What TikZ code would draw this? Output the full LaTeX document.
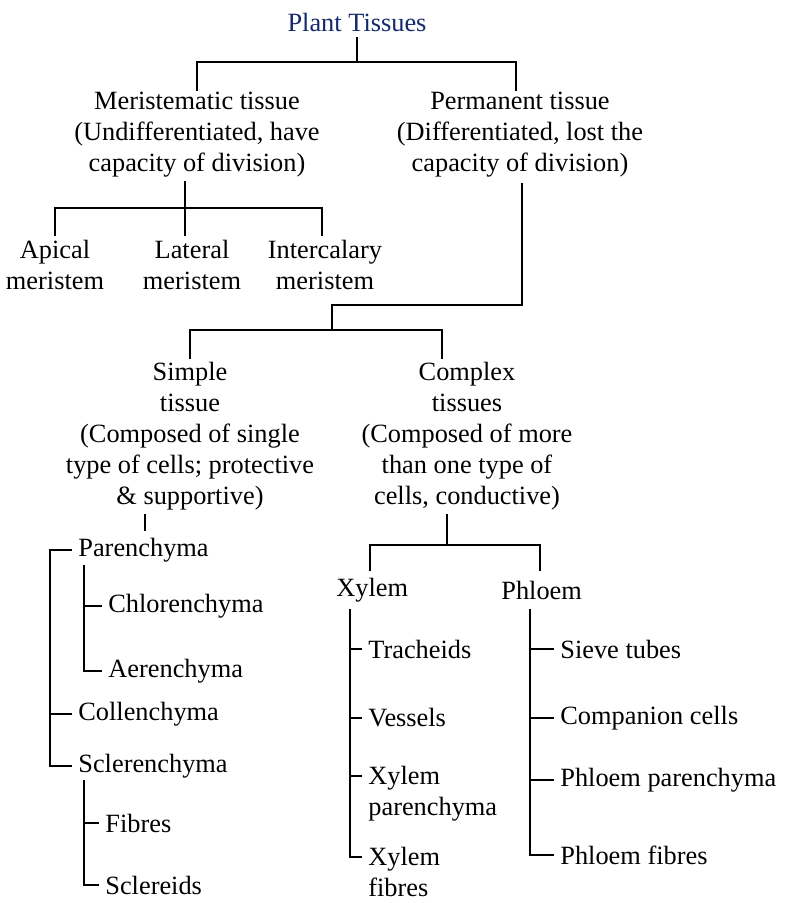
\documentclass[tikz,border=0pt]{standalone}
\usepackage{fontspec}
\setmainfont{Liberation Serif}
\definecolor{titleblue}{RGB}{20,40,110}
\begin{document}
\begin{tikzpicture}[
		x=0.02cm, y=-0.02cm,
		txt/.style={align=center, font=\fontsize{15}{17.6}\selectfont, inner sep=2pt},
		lbl/.style={align=left, anchor=west, font=\fontsize{15}{17.6}\selectfont, inner sep=4pt},
		link/.style={thick, line cap=rect}
	]
	\useasboundingbox (0,0) rectangle (800,903);
	% Top level
	\node[txt, text=titleblue] (plant) at (357,22) {Plant Tissues};
	\node[txt] (merist) at (197,135) {Meristematic tissue\\(Undifferentiated, have\\capacity of division)};
	\node[txt] (perm) at (520,135) {Permanent tissue\\(Differentiated, lost the\\capacity of division)};
	\draw[link] (357,38) -- (357,62);
	\draw[link] (197,90) |- (516,62) -- (516,90);

	% Meristems
	\node[txt] (apical) at (55,265) {Apical\\meristem};
	\node[txt] (lateral) at (192,265) {Lateral\\meristem};
	\node[txt] (inter) at (325,265) {Intercalary\\meristem};
	\draw[link] (185,182) -- (185,208);
	\draw[link] (55,235) |- (322,208) -- (322,235);
	\draw[link] (185,208) -- (185,235);

	% Permanent
	\node[txt] (simple) at (190,436) {Simple\\tissue\\(Composed of single\\type of cells; protective\\\& supportive)};
	\node[txt] (complex) at (467,436) {Complex\\tissues\\(Composed of more\\than one type of\\cells, conductive)};
	\draw[link] (522,184) |- (332,305) -- (332,330);
	\draw[link] (190,358) |- (442,330) -- (442,358);

	% Simple tissue
	\draw[link] (145,515) -- (145,530);
	\node[lbl] (paren) at (71,550) {Parenchyma};
	\node[lbl] (chlor) at (101,606) {Chlorenchyma};
	\node[lbl] (aeren) at (101,671) {Aerenchyma};
	\node[lbl] (collen) at (71,714) {Collenchyma};
	\node[lbl] (scler) at (71,766) {Sclerenchyma};
	\node[lbl] (fibres) at (98,823) {Fibres};
	\node[lbl] (sclereid) at (98,885) {Sclereids};
	\draw[link] (paren.west) -| (50,766) -- (scler.west);
	\draw[link] (50,714) -- (collen.west);
	\draw[link] (84,566) |- (aeren.west);
	\draw[link] (84,606) -- (chlor.west);
	\draw[link] (84,781) |- (sclereid.west);
	\draw[link] (84,823) -- (fibres.west);

	% Complex tissue
	\node[lbl] (xylem) at (329,590) {Xylem};
	\node[lbl] (phloem) at (494,590) {Phloem};
	\draw[link] (447,515) -- (447,545);
	\draw[link] (370,570) |- (540,545) -- (540,570);
	\node[lbl] (trach) at (361,649) {Tracheids};
	\node[lbl] (vessel) at (361,718) {Vessels};
	\node[lbl, anchor=north west] (xpar) at (361,759) {Xylem\\parenchyma};
	\node[lbl, anchor=north west] (xfib) at (361,840) {Xylem\\fibres};
	\draw[link] (350,610) |- (xfib.west |- 0,857);
	\draw[link] (350,649) -- (trach.west);
	\draw[link] (350,718) -- (vessel.west);
	\draw[link] (350,776) -- (xpar.west |- 0,776);
	\node[lbl] (sieve) at (553,649) {Sieve tubes};
	\node[lbl] (comp) at (553,718) {Companion cells};
	\node[lbl] (ppar) at (553,780) {Phloem parenchyma};
	\node[lbl] (pfib) at (553,855) {Phloem fibres};
	\draw[link] (530,610) |- (pfib.west);
	\draw[link] (530,649) -- (sieve.west);
	\draw[link] (530,718) -- (comp.west);
	\draw[link] (530,780) -- (ppar.west);
\end{tikzpicture}
\end{document}
